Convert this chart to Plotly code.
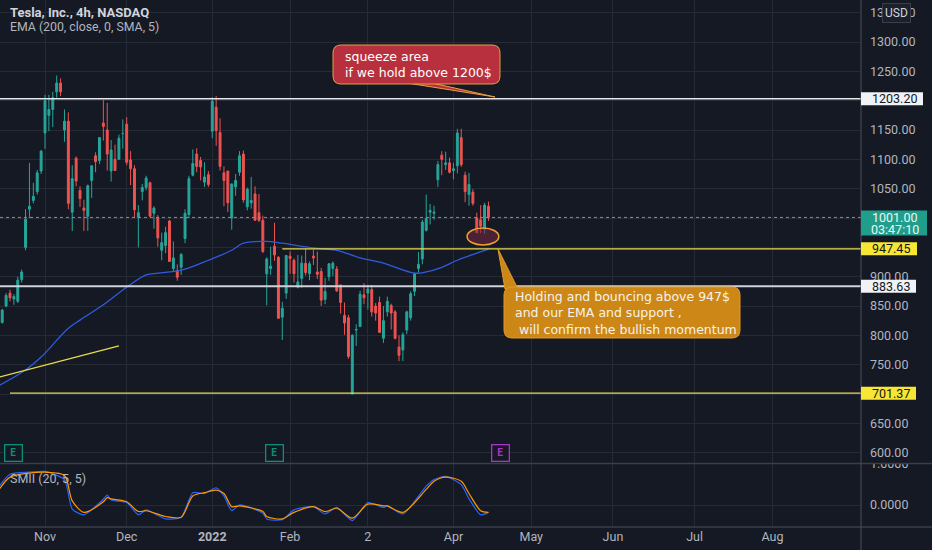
import plotly.graph_objects as go

# ---- data (daily candles, USD) ----
dates = [
    "2021-10-14", "2021-10-15", "2021-10-18", "2021-10-19", "2021-10-20", "2021-10-21", "2021-10-22",
    "2021-10-25", "2021-10-26", "2021-10-27", "2021-10-28", "2021-10-29",
    "2021-11-01", "2021-11-02", "2021-11-03", "2021-11-04", "2021-11-05",
    "2021-11-08", "2021-11-09", "2021-11-10", "2021-11-11", "2021-11-12",
    "2021-11-15", "2021-11-16", "2021-11-17", "2021-11-18", "2021-11-19",
    "2021-11-22", "2021-11-23", "2021-11-24", "2021-11-26",
    "2021-11-29", "2021-11-30", "2021-12-01", "2021-12-02", "2021-12-03",
    "2021-12-06", "2021-12-07", "2021-12-08", "2021-12-09", "2021-12-10",
    "2021-12-13", "2021-12-14", "2021-12-15", "2021-12-16", "2021-12-17",
    "2021-12-20", "2021-12-21", "2021-12-22", "2021-12-23",
    "2021-12-27", "2021-12-28", "2021-12-29", "2021-12-30", "2021-12-31",
    "2022-01-03", "2022-01-04", "2022-01-05", "2022-01-06", "2022-01-07",
    "2022-01-10", "2022-01-11", "2022-01-12", "2022-01-13", "2022-01-14",
    "2022-01-18", "2022-01-19", "2022-01-20", "2022-01-21",
    "2022-01-24", "2022-01-25", "2022-01-26", "2022-01-27", "2022-01-28",
    "2022-01-31", "2022-02-01", "2022-02-02", "2022-02-03", "2022-02-04",
    "2022-02-07", "2022-02-08", "2022-02-09", "2022-02-10", "2022-02-11",
    "2022-02-14", "2022-02-15", "2022-02-16", "2022-02-17", "2022-02-18",
    "2022-02-22", "2022-02-23", "2022-02-24", "2022-02-25",
    "2022-02-28", "2022-03-01", "2022-03-02", "2022-03-03", "2022-03-04",
    "2022-03-07", "2022-03-08", "2022-03-09", "2022-03-10", "2022-03-11",
    "2022-03-14", "2022-03-15", "2022-03-16", "2022-03-17", "2022-03-18",
    "2022-03-21", "2022-03-22", "2022-03-23", "2022-03-24", "2022-03-25",
    "2022-03-28", "2022-03-29", "2022-03-30", "2022-03-31", "2022-04-01",
    "2022-04-04", "2022-04-05", "2022-04-06", "2022-04-07", "2022-04-08",
    "2022-04-11", "2022-04-12", "2022-04-13", "2022-04-14",
]
opens = [
    816, 822, 850, 872, 862, 858, 895,
    950, 1015, 1030, 1045, 1080,
    1145, 1175, 1185, 1215, 1230,
    1150, 1165, 1010, 1102, 1047,
    1017, 1003, 1064, 1106, 1098,
    1162, 1150, 1080, 1100,
    1100, 1144, 1160, 1099, 1084,
    1001, 1045, 1052, 1060, 1008,
    1001, 945, 953, 995, 914,
    910, 916, 965, 1006,
    1073, 1109, 1098, 1061, 1074,
    1148, 1189, 1146, 1077, 1080,
    1000, 1053, 1078, 1109, 1019,
    1026, 1041, 1009, 996,
    905, 914, 952, 933, 831,
    872, 935, 928, 882, 897,
    923, 905, 935, 908, 909,
    861, 900, 914, 913, 886,
    834, 830, 700, 809,
    815, 869, 872, 878, 850,
    856, 795, 840, 851, 840,
    780, 775, 809, 830, 875,
    914, 930, 979, 1010, 1008,
    1065, 1107, 1091, 1094, 1081,
    1089, 1137, 1073, 1040, 1044,
    1000, 997, 981, 1020,
]
highs = [
    825, 845, 872, 878, 870, 900, 912,
    1015, 1094, 1060, 1082, 1116,
    1210, 1210, 1215, 1243, 1238,
    1185, 1180, 1090, 1105, 1054,
    1031, 1057, 1089, 1112, 1138,
    1201, 1196, 1133, 1125,
    1142, 1168, 1172, 1114, 1090,
    1022, 1058, 1072, 1062, 1020,
    1005, 975, 985, 997, 960,
    921, 940, 1015, 1072,
    1117, 1119, 1104, 1095, 1080,
    1206, 1208, 1170, 1088, 1080,
    1059, 1075, 1114, 1115, 1052,
    1070, 1054, 1041, 1004,
    933, 951, 992, 935, 857,
    937, 943, 931, 937, 936,
    947, 926, 946, 943, 915,
    898, 923, 926, 918, 886,
    856, 835, 802, 819,
    876, 889, 886, 886, 855,
    866, 850, 866, 854, 843,
    800, 805, 842, 875, 907,
    942, 997, 1040, 1024, 1021,
    1097, 1114, 1113, 1103, 1094,
    1152, 1152, 1079, 1077, 1049,
    1009, 1022, 1026, 1028,
]
lows = [
    812, 820, 848, 858, 852, 855, 890,
    945, 1000, 1025, 1040, 1075,
    1118, 1148, 1155, 1205, 1208,
    1130, 1015, 978, 1054, 1019,
    978, 978, 1034, 1078, 1092,
    1132, 1081, 1062, 1080,
    1100, 1118, 1090, 1056, 1000,
    950, 1030, 1047, 1002, 982,
    951, 928, 940, 925, 909,
    893, 903, 957, 1000,
    1071, 1078, 1064, 1053, 1053,
    1136, 1123, 1081, 1020, 1010,
    980, 1038, 1072, 1026, 1013,
    1016, 995, 993, 940,
    851, 903, 927, 829, 792,
    862, 905, 890, 880, 881,
    902, 894, 920, 896, 850,
    853, 893, 901, 874, 837,
    801, 760, 700, 782,
    814, 853, 844, 832, 825,
    804, 787, 832, 810, 793,
    756, 756, 802, 825, 867,
    907, 921, 977, 989, 997,
    1053, 1073, 1082, 1076, 1066,
    1076, 1087, 1027, 1021, 1021,
    974, 974, 973, 995,
]
closes = [
    820, 843, 868, 864, 866, 894, 908,
    998, 1020, 1037, 1077, 1114,
    1200, 1185, 1205, 1230, 1215,
    1165, 1025, 1067, 1063, 1033,
    1013, 1055, 1089, 1096, 1137,
    1156, 1109, 1116, 1081,
    1136, 1144, 1095, 1084, 1014,
    1009, 1052, 1068, 1003, 1017,
    966, 958, 975, 926, 932,
    899, 938, 1008, 1067,
    1093, 1088, 1087, 1070, 1057,
    1199, 1149, 1088, 1064, 1026,
    1058, 1064, 1106, 1031, 1049,
    1030, 996, 996, 943,
    930, 918, 937, 829, 846,
    936, 931, 905, 891, 923,
    907, 922, 932, 904, 860,
    875, 922, 923, 876, 856,
    821, 764, 800, 810,
    870, 864, 879, 840, 838,
    805, 825, 858, 838, 795,
    766, 801, 840, 871, 905,
    921, 993, 999, 1013, 1010,
    1091, 1100, 1094, 1078, 1084,
    1145, 1091, 1045, 1057, 1025,
    975, 986, 1022, 1001,
]

# EMA (200) line, read at sample points
ema_dates = [
    "2021-10-14", "2021-10-25", "2021-10-29", "2021-11-09", "2021-11-12", "2021-11-22",
    "2021-12-01", "2021-12-08", "2021-12-13", "2021-12-21", "2021-12-31", "2022-01-10",
    "2022-01-13", "2022-01-24", "2022-01-28", "2022-02-09", "2022-02-17", "2022-02-28",
    "2022-03-08", "2022-03-18", "2022-03-23", "2022-03-29", "2022-04-04", "2022-04-11",
    "2022-04-14",
]
ema_vals = [
    714, 741, 763, 812, 826, 852,
    882, 903, 906, 911, 928, 945,
    957, 960, 957, 949, 945, 932,
    923, 906, 908, 916, 928, 940,
    947,
]

# SMII (20, 5, 5): blue = SMI, orange = signal
smi_dates = [
    "2021-10-14", "2021-10-19", "2021-10-26", "2021-11-01", "2021-11-08", "2021-11-10",
    "2021-11-15", "2021-11-22", "2021-11-23", "2021-11-24", "2021-12-01", "2021-12-06",
    "2021-12-08", "2021-12-15", "2021-12-21", "2021-12-27", "2021-12-30", "2022-01-04",
    "2022-01-06", "2022-01-10", "2022-01-12", "2022-01-21", "2022-01-24", "2022-01-28",
    "2022-02-02", "2022-02-09", "2022-02-14", "2022-02-17", "2022-02-24", "2022-03-02",
    "2022-03-08", "2022-03-09", "2022-03-15", "2022-03-23", "2022-03-25", "2022-03-30",
    "2022-04-05", "2022-04-07", "2022-04-12", "2022-04-14",
]
smi_vals = [
    0.43, 0.75, 0.80, 0.82, 0.62, -0.10,
    -0.24, 0.14, 0.24, 0.12, 0.06, -0.24,
    -0.12, -0.34, -0.30, 0.30, 0.28, 0.42,
    0.22, -0.14, 0.00, -0.20, -0.34, -0.36,
    -0.12, -0.04, -0.22, -0.06, -0.38, 0.06,
    -0.06, -0.02, -0.22, 0.46, 0.62, 0.70,
    0.50, 0.15, -0.24, -0.18,
]
smi_signal = [
    0.35, 0.68, 0.78, 0.80, 0.72, 0.10,
    -0.18, 0.08, 0.18, 0.15, 0.08, -0.16,
    -0.14, -0.28, -0.30, 0.22, 0.30, 0.36,
    0.28, -0.04, -0.02, -0.16, -0.28, -0.34,
    -0.18, -0.04, -0.16, -0.08, -0.32, 0.02,
    -0.02, -0.02, -0.18, 0.38, 0.58, 0.68,
    0.58, 0.28, -0.14, -0.18,
]

# drawn levels
white_levels = [1203.20, 883.63]
support_level = 947.45
support_start = "2022-01-28"
bottom_level = 701.37
bottom_start = "2021-10-19"
last_price = 1001.00
countdown = "03:47:10"
trend_dates = ["2021-10-14 10:00", "2021-11-29"]
trend_prices = [729, 782]
circle_dates = ["2022-04-06 12:00", "2022-04-19 16:00"]
circle_prices = [954, 983]
earnings_dates = ["2021-10-20", "2022-01-26", "2022-04-20"]
earnings_colors = ["#0b8f78", "#0b8f78", "#b22fcf"]

red_note = ["squeeze area", "if we hold above 1200$"]
orange_note = ["Holding and bouncing above 947$", "and our EMA and support ,",
               "&nbsp;will confirm the bullish momentum"]

price_ticks = [600, 650, 700, 750, 800, 850, 900, 950, 1000, 1050, 1100, 1150, 1200, 1250, 1300, 1350]
hidden_ticks = [700, 950, 1000, 1200]          # covered by the price labels
month_ticks = ["2021-11-01", "2021-12-01", "2022-01-03", "2022-02-01", "2022-03-02",
               "2022-04-01", "2022-05-02", "2022-06-01", "2022-07-01", "2022-08-01"]
month_labels = ["Nov", "Dec", "<b>2022</b>", "Feb", "2", "Apr", "May", "Jun", "Jul", "Aug"]
holidays = ["2021-11-25", "2021-12-24", "2022-01-17", "2022-02-21",
            "2022-04-15", "2022-05-30", "2022-06-20", "2022-07-04"]
x_range = ["2021-10-14 10:19", "2022-08-31 18:30"]

# ---- geometry ----
W, H = 932, 550
PW, PH = 861, 527          # plot area (price axis on the right, time axis below)
MAIN_H = 463               # main pane height in px
YMIN, YMAX = 582.4, 1371.6

BG = "#151924"
GRID = "#262a35"
TXT = "#b2b5be"
UP, DN = "#26a69a", "#ef5350"
YEL = "#e9dc4f"
FONT = "Roboto"
NOTE_FONT = "DejaVu Sans"


def px(x):
    return x / PW


def py(y):
    return 1 - y / PH


def price_py(p):
    return (YMAX - p) / (YMAX - YMIN) * MAIN_H


def P(x, y):
    return f"{px(x):.5f},{py(y):.5f}"


def rrect(x0, y0, x1, y1, r):
    return (f"M{P(x0 + r, y0)} L{P(x1 - r, y0)} Q{P(x1, y0)} {P(x1, y0 + r)} "
            f"L{P(x1, y1 - r)} Q{P(x1, y1)} {P(x1 - r, y1)} L{P(x0 + r, y1)} "
            f"Q{P(x0, y1)} {P(x0, y1 - r)} L{P(x0, y0 + r)} Q{P(x0, y0)} {P(x0 + r, y0)} Z")


def poly(pts):
    return "M" + " L".join(P(x, y) for x, y in pts) + " Z"


fig = go.Figure()

fig.add_trace(go.Candlestick(
    x=dates, open=opens, high=highs, low=lows, close=closes,
    increasing=dict(line=dict(color=UP, width=1), fillcolor=UP),
    decreasing=dict(line=dict(color=DN, width=1), fillcolor=DN),
    whiskerwidth=0, showlegend=False, hoverinfo="skip",
    xaxis="x", yaxis="y"))

fig.add_trace(go.Scatter(
    x=ema_dates, y=ema_vals, mode="lines",
    line=dict(color="#2f5be0", width=1.3, shape="spline", smoothing=1.0),
    showlegend=False, hoverinfo="skip", xaxis="x", yaxis="y"))

fig.add_trace(go.Scatter(
    x=smi_dates, y=smi_vals, mode="lines",
    line=dict(color="#2962ff", width=1.2, shape="spline", smoothing=0.6),
    showlegend=False, hoverinfo="skip", xaxis="x2", yaxis="y2"))
fig.add_trace(go.Scatter(
    x=smi_dates, y=smi_signal, mode="lines",
    line=dict(color="#ff9800", width=1.2, shape="spline", smoothing=0.8),
    showlegend=False, hoverinfo="skip", xaxis="x2", yaxis="y2"))

shapes = []
# horizontal levels
for lv, w, c in zip(white_levels, [1.5, 2], ["#e6e8ee", "#cfd2da"]):
    shapes.append(dict(type="line", xref="paper", x0=0, x1=1, yref="y", y0=lv, y1=lv,
                       line=dict(color=c, width=w)))
shapes.append(dict(type="line", xref="x", x0=support_start, x1=x_range[1], yref="y",
                   y0=support_level, y1=support_level, line=dict(color=YEL, width=1.2)))
shapes.append(dict(type="line", xref="x", x0=bottom_start, x1=x_range[1], yref="y",
                   y0=bottom_level, y1=bottom_level, line=dict(color=YEL, width=1.2)))
shapes.append(dict(type="line", xref="paper", x0=0, x1=1, yref="y", y0=last_price, y1=last_price,
                   line=dict(color="#8b8e98", width=1, dash="dot")))
shapes.append(dict(type="line", xref="x", x0=trend_dates[0], x1=trend_dates[1], yref="y",
                   y0=trend_prices[0], y1=trend_prices[1], line=dict(color=YEL, width=1.2)))
shapes.append(dict(type="circle", xref="x", x0=circle_dates[0], x1=circle_dates[1], yref="y",
                   y0=circle_prices[0], y1=circle_prices[1],
                   fillcolor="rgba(120,40,70,0.55)", line=dict(color="#f0a030", width=1.5)))

# callouts
shapes.append(dict(type="path", xref="paper", yref="paper",
                   path=poly([(407, 83), (432, 83), (495, 97)]),
                   fillcolor="#b8303e", line=dict(color="#e8a040", width=1)))
shapes.append(dict(type="path", xref="paper", yref="paper",
                   path=rrect(333, 45, 500, 84, 8),
                   fillcolor="#b8303e", line=dict(color="#e8a040", width=1)))
shapes.append(dict(type="path", xref="paper", yref="paper",
                   path=poly([(498, 249), (505, 289), (518, 289)]),
                   fillcolor="#cc8716", line=dict(color="#e09a25", width=1)))
shapes.append(dict(type="path", xref="paper", yref="paper",
                   path=rrect(504, 287, 740, 338, 8),
                   fillcolor="#cc8716", line=dict(color="#e09a25", width=1)))

# hide the top of the clipped 1.0000 label
shapes.append(dict(type="rect", xref="paper", yref="paper", x0=1.0, x1=px(W), y0=py(463.5), y1=py(458.5),
                   fillcolor=BG, line=dict(width=0)))
# pane borders
shapes.append(dict(type="line", xref="paper", yref="paper", x0=0, x1=px(W), y0=py(463.5), y1=py(463.5),
                   line=dict(color="#3a3e4a", width=1.5)))
shapes.append(dict(type="line", xref="paper", yref="paper", x0=0, x1=px(W), y0=0, y1=0,
                   line=dict(color="#3a3e4a", width=1.5)))
shapes.append(dict(type="line", xref="paper", yref="paper", x0=1, x1=1, y0=py(H), y1=1,
                   line=dict(color="#4a4e5a", width=1)))

# price labels on the axis
annotations = []
axis_labels = [
    (white_levels[0], f"{white_levels[0]:.2f}", "#f0f2f5", "#131722", 62),
    (support_level, f"{support_level:.2f}", "#f7e633", "#131722", 56),
    (white_levels[1], f"{white_levels[1]:.2f}", "#f0f2f5", "#131722", 55),
    (bottom_level, f"{bottom_level:.2f}", "#f7e633", "#131722", 55),
]
for lv, txt, bg, fg, w in axis_labels:
    c = price_py(lv)
    shapes.append(dict(type="rect", xref="paper", yref="paper", x0=1, x1=px(PW + w),
                       y0=py(c + 6.5), y1=py(c - 6.5), fillcolor=bg, line=dict(width=0)))
    annotations.append(dict(xref="paper", yref="paper", x=px(PW + 9), y=py(c), text=txt,
                            showarrow=False, xanchor="left", yanchor="middle",
                            font=dict(family=FONT, size=12.5, color=fg)))
c = price_py(last_price)
shapes.append(dict(type="rect", xref="paper", yref="paper", x0=1, x1=px(PW + 66),
                   y0=py(c + 18), y1=py(c - 7), fillcolor="#1f9e8c", line=dict(width=0)))
annotations.append(dict(xref="paper", yref="paper", x=px(PW + 9), y=py(c), text=f"{last_price:.2f}",
                        showarrow=False, xanchor="left", yanchor="middle",
                        font=dict(family=FONT, size=12.5, color="#eef7f5")))
annotations.append(dict(xref="paper", yref="paper", x=px(PW + 8), y=py(c + 12), text=countdown,
                        showarrow=False, xanchor="left", yanchor="middle",
                        font=dict(family=FONT, size=12.5, color="#eef7f5")))

# texts
annotations += [
    dict(xref="paper", yref="paper", x=px(8), y=py(13), text="<b>Tesla, Inc., 4h, NASDAQ</b>",
         showarrow=False, xanchor="left", yanchor="middle", font=dict(family=FONT, size=13, color="#d1d4dc")),
    dict(xref="paper", yref="paper", x=px(8), y=py(27), text="EMA (200, close, 0, SMA, 5)",
         showarrow=False, xanchor="left", yanchor="middle", font=dict(family=FONT, size=12.3, color=TXT)),
    dict(xref="paper", yref="paper", x=px(8), y=py(478), text="SMII (20, 5, 5)",
         showarrow=False, xanchor="left", yanchor="middle", font=dict(family=FONT, size=12.5, color=TXT)),
    dict(xref="paper", yref="paper", x=px(896), y=py(13), text="USD", showarrow=False,
         xanchor="center", yanchor="middle", bgcolor="#1c202b", bordercolor="#3a3e4a", borderwidth=1,
         borderpad=2, font=dict(family=FONT, size=12, color="#d1d4dc")),
    dict(xref="paper", yref="paper", x=px(343), y=py(65), text="<br>".join(red_note),
         showarrow=False, xanchor="left", yanchor="middle", align="left",
         font=dict(family=NOTE_FONT, size=12.5, color="#ffffff")),
    dict(xref="paper", yref="paper", x=px(513), y=py(313), text="<br>".join(orange_note),
         showarrow=False, xanchor="left", yanchor="middle", align="left",
         font=dict(family=NOTE_FONT, size=12.5, color="#f7f3ea")),
]
for d, col in zip(earnings_dates, earnings_colors):
    annotations.append(dict(xref="x", yref="paper", x=d, y=py(453), text="<b>E</b>", showarrow=False,
                            xanchor="center", yanchor="middle", bgcolor=BG, bordercolor=col,
                            width=11, height=10, borderwidth=1.3, borderpad=2.5,
                            font=dict(family=FONT, size=10, color=col)))

xcommon = dict(type="date", range=x_range, automargin=False,
               rangebreaks=[dict(bounds=["sat", "mon"]), dict(values=holidays)],
               showgrid=True, gridcolor=GRID, gridwidth=1, zeroline=False, showline=False,
               tickvals=month_ticks, ticks="")

price_text = ["" if t in hidden_ticks else f"{t:.2f}" for t in price_ticks]

fig.update_layout(
    width=W, height=H,
    margin=dict(l=0, r=W - PW, t=0, b=H - PH, pad=0, autoexpand=False),
    paper_bgcolor=BG, plot_bgcolor=BG,
    font=dict(family=FONT, color=TXT),
    showlegend=False,
    xaxis=dict(**xcommon, anchor="y", showticklabels=False, rangeslider=dict(visible=False)),
    xaxis2=dict(**xcommon, anchor="y2", matches="x", ticktext=month_labels,
                tickfont=dict(family=FONT, size=12.5, color=TXT)),
    yaxis=dict(domain=[(PH - MAIN_H) / PH, 1], range=[YMIN, YMAX], side="right", automargin=False,
               tickvals=price_ticks, ticktext=price_text, ticks="", ticklabelstandoff=8,
               showgrid=True, gridcolor=GRID, zeroline=False, showline=False,
               tickfont=dict(family=FONT, size=12.5, color=TXT)),
    yaxis2=dict(domain=[0, (PH - MAIN_H - 1) / PH], range=[-0.537, 1.0005], side="right", automargin=False,
                tickvals=[0, 1], ticktext=["0.0000", "1.0000"], ticks="", ticklabelstandoff=8,
                showgrid=True, gridcolor=GRID, zeroline=False, showline=False,
                tickfont=dict(family=FONT, size=12.5, color=TXT)),
    shapes=shapes,
    annotations=annotations,
)

fig.write_html("out.html", config={"displayModeBar": False},
               post_script="document.body.style.margin='0';document.body.style.overflow='hidden';")
